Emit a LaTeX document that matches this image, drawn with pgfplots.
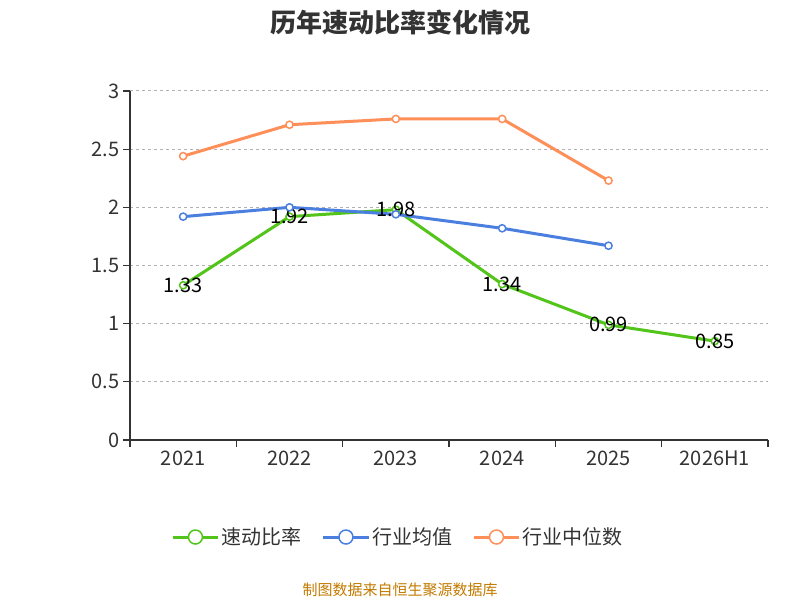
\documentclass[border=0pt]{standalone}
\usepackage{pgfplots}
\pgfplotsset{compat=1.18}
\usepackage{fontspec}
\setmainfont{Noto Sans CJK SC}
\definecolor{cg}{HTML}{52C41A}
\definecolor{cb}{HTML}{4A7FE0}
\definecolor{co}{HTML}{FF8F59}
\definecolor{tx}{HTML}{333333}
\begin{document}
\begin{tikzpicture}
\path (0,0) rectangle (800pt,600pt);
\node[font=\fontsize{26}{30}\selectfont\bfseries,text=tx] at (400pt,578pt) {历年速动比率变化情况};
\node[font=\fontsize{15}{18}\selectfont,text=black!30!orange!80!yellow] at (400pt,10pt) {制图数据来自恒生聚源数据库};
\begin{axis}[at={(130pt,160pt)},anchor=south west,scale only axis,
 width=638pt,height=349pt,
 xmin=-0.5,xmax=5.5,ymin=0,ymax=3,
 axis lines=left, axis line style={-,black!80,line width=1.2pt},
 xtick={0,...,5},xticklabels={2021,2022,2023,2024,2025,2026H1},
 major x tick style={draw=none},
 minor xtick={-0.5,0.5,...,5.5},minor tick length=7pt,
 minor x tick style={black!80,line width=1.2pt},
 ytick={0,0.5,...,3}, yticklabels={0,0.5,1,1.5,2,2.5,3},
 y tick style={black!80,line width=1.2pt},
 tick align=outside, major tick length=7pt,
 ymajorgrids, grid style={dashed,black!30,line width=1pt},
 ticklabel style={font=\fontsize{20}{24}\selectfont,text=tx},
 /pgf/number format/assume math mode=true,
 legend columns=3,
 legend style={at={(0.42,-0.278)},anchor=center,draw=none,font=\fontsize{20}{24}\selectfont,text=tx,/tikz/every even column/.append style={column sep=18pt}},
 legend image code/.code={\draw[#1,mark=none] (0,0)--(1.6cm,0); \draw[#1,mark=*,mark size=7pt,fill=white] plot coordinates {(0.8cm,0)};},
 every axis plot/.append style={line width=3pt,mark=*,mark size=3.6pt,mark options={fill=white,line width=1.5pt}},
]
\addplot[cg,nodes near coords,point meta=explicit symbolic,every node near coord/.style={anchor=center,font=\fontsize{20}{24}\selectfont,text=black}] coordinates {(0,1.33)[1.33] (1,1.92)[1.92] (2,1.98)[1.98] (3,1.34)[1.34] (4,0.99)[0.99] (5,0.85)[0.85]};
\addlegendentry{速动比率}
\addplot[cb] coordinates {(0,1.92)(1,2.00)(2,1.94)(3,1.82)(4,1.67)};
\addlegendentry{行业均值}
\addplot[co] coordinates {(0,2.44)(1,2.71)(2,2.76)(3,2.76)(4,2.23)};
\addlegendentry{行业中位数}
\end{axis}
\end{tikzpicture}
\end{document}
